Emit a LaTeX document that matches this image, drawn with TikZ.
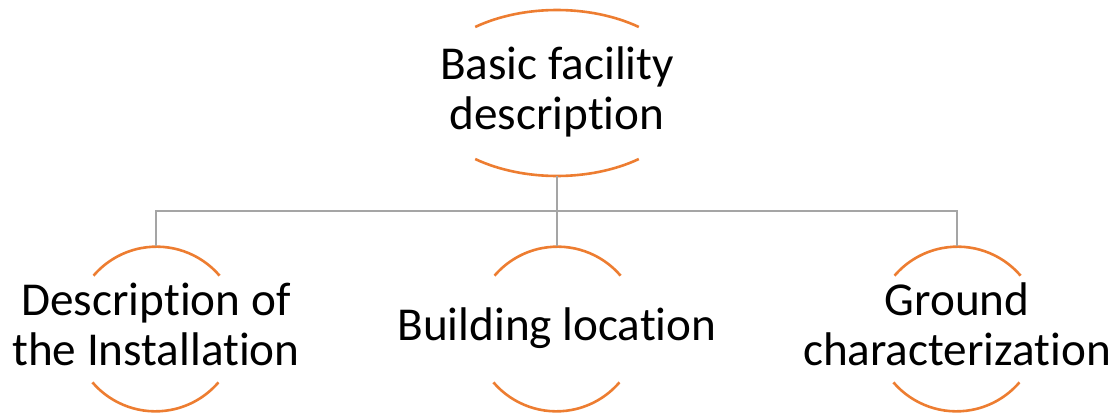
\documentclass[tikz,border=0pt]{standalone}
\usepackage{fontspec}
\setmainfont[RawFeature={-liga;-calt;-dlig}]{Carlito}
\usetikzlibrary{shapes.geometric}

\definecolor{ringorange}{HTML}{ED7D31}
\definecolor{linkgray}{HTML}{A5A5A5}
% every text line gets the same height and depth
\newcommand{\linestrut}{\rule[-5.9pt]{0pt}{23.6pt}}

\begin{document}
\begin{tikzpicture}[x=0.5pt, y=0.5pt,
    ring/.style={circle, minimum size=83pt, inner sep=0pt, outer sep=0pt},
    ringarc/.style={ringorange, line width=1.3pt},
    caption/.style={align=center, inner sep=0pt, font=\fontsize{23.6}{25}\selectfont},
    link/.style={linkgray, line width=1.2pt}]
    \useasboundingbox (0,0) rectangle (1119,414);

    % top item, a wide ellipse with only its upper and lower arcs
    \node[ellipse, minimum width=135pt, minimum height=83pt, inner sep=0pt, outer sep=0pt] (basic) at (557,321) {};
    \draw[ringarc] (basic.center) ++(52.7:135 and 83) arc[start angle=52.7, end angle=127.3, x radius=135, y radius=83];
    \draw[ringarc] (basic.center) ++(232.7:135 and 83) arc[start angle=232.7, end angle=307.3, x radius=135, y radius=83];
    \node[caption] (basic-text) at (basic) {\linestrut Basic facility\\\linestrut description};

    % second row
    \node[ring] (install) at (156,85) {};
    \node[ring] (location) at (557,85) {};
    \node[ring] (ground) at (957,85) {};

    \foreach \n in {install, location, ground} {
        \draw[ringarc] (\n.40.6) arc[start angle=40.6, end angle=139.4, radius=83];
        \draw[ringarc] (\n.220.6) arc[start angle=220.6, end angle=319.4, radius=83];
    }

    \node[caption] (install-text) at (install) {\linestrut Description of\\\linestrut the Installation};
    \node[caption] (location-text) at (location) {\linestrut Building location};
    \node[caption] (ground-text) at (ground) {\linestrut Ground\\\linestrut characterization};

    % tree lines
    \coordinate (bus) at (557,203);
    \draw[link] (basic.south) -- (bus);
    \draw[link] (bus) -| (install.north);
    \draw[link] (bus) -- (location.north);
    \draw[link] (bus) -| (ground.north);
\end{tikzpicture}
\end{document}
